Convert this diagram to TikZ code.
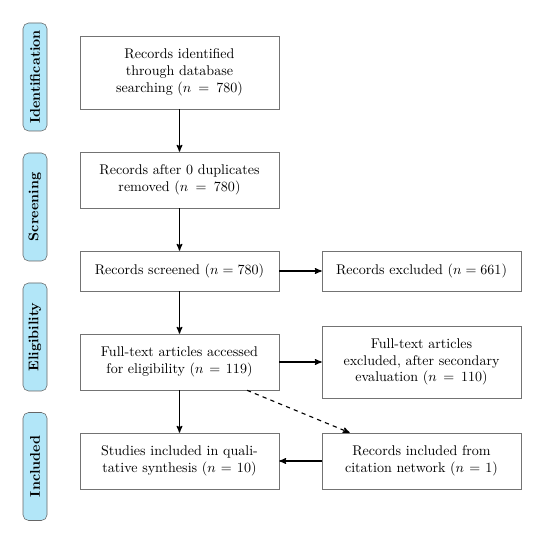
\documentclass[tikz,border=0pt]{standalone}
\usepackage{amsmath}
\usepackage{amssymb}
\usepackage{tikz}
\usetikzlibrary{calc,arrows}
\definecolor{phaseblue}{RGB}{178,230,248}

\begin{document}
\begin{tikzpicture}
 \tikzstyle{arrow}  = [->,thick,>=stealth'];
 \tikzstyle{dasharrow} = [->,thick,dashed,>=stealth'];
 \tikzstyle{recbox} = [draw=black!55,fill=white,align=center,text width=4.3cm,minimum width=4.975cm];
 \tikzstyle{phase}  = [draw=black!60,fill=phaseblue,rounded corners=4pt,rotate=90,
                       minimum width=2.7cm,minimum height=0.6cm,inner sep=0pt,font=\bfseries];

 \useasboundingbox (0,0) rectangle (13.675,-13.55);

 %% phases on the left
 \node[phase,name=ph1] at (0.875,-1.925)  {Identification};
 \node[phase,name=ph2] at (0.875,-5.175)  {Screening};
 \node[phase,name=ph3] at (0.875,-8.425)  {Eligibility};
 \node[phase,name=ph4] at (0.875,-11.6625) {Included};

 %% main column
 \node[recbox,minimum height=1.825cm,name=s0] at (4.4875,-1.8125) {Records identified\\through database\\searching ($n = 780$)};
 \node[recbox,minimum height=1.4cm,name=s1] at (4.4875,-4.5) {Records after 0 duplicates\\removed ($n = 780$)};
 \node[recbox,minimum height=1.0cm,name=s2] at (4.4875,-6.775) {Records screened ($n = 780$)};
 \node[recbox,minimum height=1.4cm,name=s3] at (4.4875,-9.05) {Full-text articles accessed\\for eligibility ($n = 119$)};
 \node[recbox,minimum height=1.4cm,name=s4] at (4.4875,-11.525) {Studies included in quali-\\tative synthesis ($n = 10$)};

 %% right column
 \node[recbox,minimum height=1.0cm,name=x2] at (10.5375,-6.775) {Records excluded ($n = 661$)};
 \node[recbox,minimum height=1.8cm,name=x3] at (10.5375,-9.05) {Full-text articles\\excluded, after secondary\\evaluation ($n = 110$)};
 \node[recbox,minimum height=1.4cm,name=c4] at (10.5375,-11.525) {Records included from\\citation network ($n = 1$)};

 \coordinate (d0) at ($(s3.south)+(1.6875,0)$);
 \coordinate (d1) at ($(c4.north west)+(0.7,0)$);

 \draw[arrow] (s0) -- (s1);
 \draw[arrow] (s1) -- (s2);
 \draw[arrow] (s2) -- (s3);
 \draw[arrow] (s3) -- (s4);
 \draw[arrow] (s2) -- (x2);
 \draw[arrow] (s3) -- (x3);
 \draw[arrow] (c4) -- (s4);
 \draw[dasharrow] (d0) -- (d1);

\end{tikzpicture}
\end{document}
